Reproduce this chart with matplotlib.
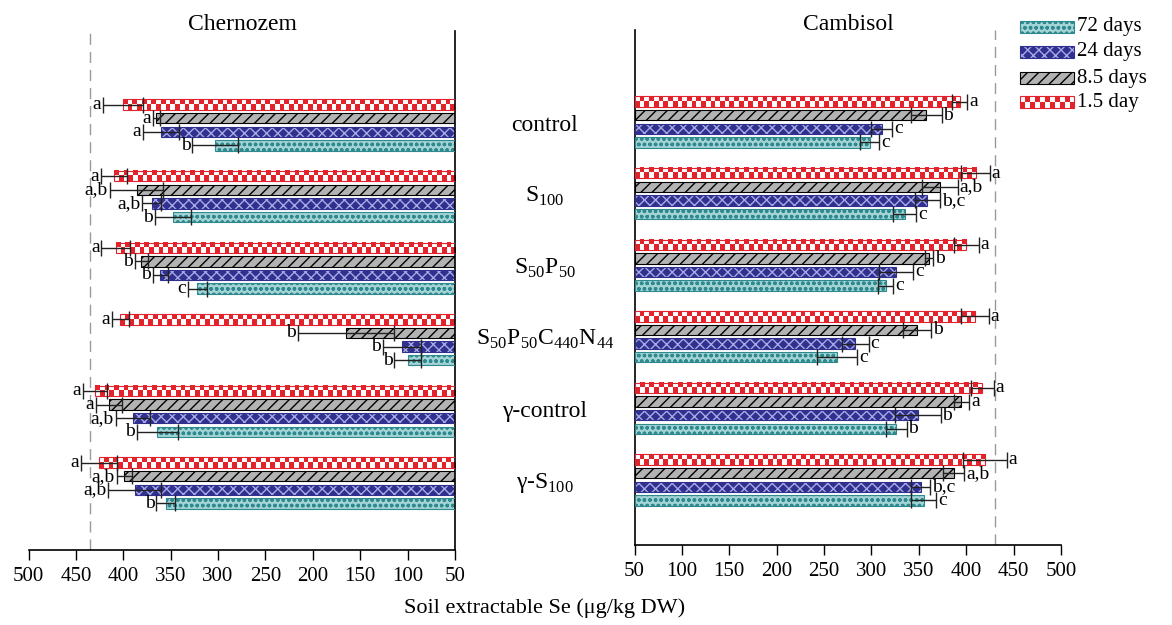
import matplotlib
matplotlib.use("Agg")
import matplotlib.pyplot as plt
import numpy as np
from matplotlib.colors import ListedColormap
from matplotlib.patches import Rectangle

plt.rcParams['font.family'] = ['Liberation Serif', 'DejaVu Serif']
plt.rcParams['hatch.linewidth'] = 1.0

# ---- data (ug/kg DW) ----
categories = [r'control', r'S$_{\mathregular{100}}$', r'S$_{\mathregular{50}}$P$_{\mathregular{50}}$',
              r'S$_{\mathregular{50}}$P$_{\mathregular{50}}$C$_{\mathregular{440}}$N$_{\mathregular{44}}$',
              r'γ-control', r'γ-S$_{\mathregular{100}}$']
series = ['1.5 day', '8.5 days', '24 days', '72 days']

cher_15 = [400, 410, 408, 403, 430, 426]
cher_15_err = [21, 14, 15, 9, 13, 19]
cher_85 = [365, 386, 381, 165, 415, 399]
cher_85_err = [4, 28, 7, 51, 14, 8]
cher_24 = [360, 370, 361, 106, 390, 388]
cher_24_err = [19, 10, 8, 20, 18, 28]
cher_72 = [303, 348, 322, 100, 364, 355]
cher_72_err = [24, 19, 10, 14, 22, 10]

camb_15 = [393, 410, 400, 409, 417, 420]
camb_15_err = [8, 15, 13, 15, 12, 23]
camb_85 = [358, 372, 361, 348, 395, 387]
camb_85_err = [16, 19, 4, 15, 8, 11]
camb_24 = [311, 359, 326, 283, 349, 352]
camb_24_err = [11, 13, 18, 14, 24, 10]
camb_72 = [298, 335, 315, 264, 326, 355]
camb_72_err = [10, 12, 8, 21, 11, 13]

cher_letters = [['a', 'a', 'a', 'a', 'a', 'a'],
                ['a', 'a,b', 'b', 'b', 'a', 'a,b'],
                ['a', 'a,b', 'b', 'b', 'a,b', 'a,b'],
                ['b', 'b', 'c', 'b', 'b', 'b']]
camb_letters = [['a', 'a', 'a', 'a', 'a', 'a'],
                ['b', 'a,b', 'b', 'b', 'a', 'a,b'],
                ['c', 'b,c', 'c', 'c', 'b', 'b,c'],
                ['c', 'c', 'c', 'c', 'b', 'c']]

dashed_left = 435
dashed_right = 430

RED = '#e3232b'
GREY = '#b3b3b3'
BLUE = '#30308f'
TEAL = '#a3d3d5'

offsets = [-0.285, -0.095, 0.095, 0.285]
bar_h = 0.145
checker_cmap = ListedColormap(['white', RED])


def checker_bar(ax, y, value, h):
    ncols = max(int(round((value - 50) / 5.0)), 1)
    img = (np.indices((2, ncols)).sum(axis=0) % 2)
    ax.imshow(img, cmap=checker_cmap, extent=(50, value, y + h / 2, y - h / 2),
              aspect='auto', interpolation='nearest', zorder=2)


def draw_panel(ax, vals, errs, letters, side):
    y0 = np.arange(len(categories))
    styles = [None,
              dict(face=GREY, hatch='///', hcol='black', edge='black'),
              dict(face=BLUE, hatch='xxx', hcol='#a9a9e6', edge=BLUE),
              dict(face=TEAL, hatch='ooo', hcol='#2f8a8f', edge='#2f8a8f')]
    for k in range(4):
        y = y0 + offsets[k]
        v = np.array(vals[k])
        if k == 0:
            for yy, vv in zip(y, v):
                checker_bar(ax, yy, vv, bar_h)
            ax.barh(y, v - 50, left=50, height=bar_h, fill=False, edgecolor=RED,
                    linewidth=0.8, zorder=3)
        else:
            st = styles[k]
            ax.barh(y, v - 50, left=50, height=bar_h, color=st['face'],
                    edgecolor=st['hcol'], hatch=st['hatch'], linewidth=0, zorder=2)
            ax.barh(y, v - 50, left=50, height=bar_h, fill=False,
                    edgecolor=st['edge'], linewidth=0.8, zorder=3)
        ax.errorbar(v, y, xerr=errs[k], fmt='none', ecolor='#222222', elinewidth=1,
                    capsize=6, capthick=1, zorder=4)
        for yy, vv, ee, lab in zip(y, v, errs[k], letters[k]):
            if side == 'left':
                ax.text(vv + ee + 2, yy, lab, ha='right', va='center', fontsize=14)
            else:
                ax.text(vv + ee + 2, yy, lab, ha='left', va='center', fontsize=14)


fig = plt.figure(figsize=(11.72, 6.25), dpi=100)
ax1 = fig.add_axes([28.5 / 1172, 1 - 550 / 625, 426.5 / 1172, 519 / 625])
ax2 = fig.add_axes([634.5 / 1172, 1 - 545 / 625, 426.5 / 1172, 515 / 625])

draw_panel(ax1, [cher_15, cher_85, cher_24, cher_72],
           [cher_15_err, cher_85_err, cher_24_err, cher_72_err], cher_letters, 'left')
draw_panel(ax2, [camb_15, camb_85, camb_24, camb_72],
           [camb_15_err, camb_85_err, camb_24_err, camb_72_err], camb_letters, 'right')

ax1.axvline(dashed_left, color='#9a9a9a', linestyle=(0, (8, 5)), linewidth=1, zorder=1)
ax2.axvline(dashed_right, color='#9a9a9a', linestyle=(0, (8, 5)), linewidth=1, zorder=1)

ax1.set_xlim(500, 50)
ax1.set_ylim(5.936, -1.313)
ax2.set_xlim(50, 500)
ax2.set_ylim(5.908, -1.285)

for ax in (ax1, ax2):
    ax.set_xticks(range(50, 501, 50))
    ax.set_yticks([])
    ax.tick_params(axis='x', direction='out', length=7, width=1, labelsize=15, pad=5)
    ax.spines['top'].set_visible(False)
    ax.spines['bottom'].set_linewidth(1.2)
ax1.spines['left'].set_visible(False)
ax1.spines['right'].set_linewidth(1.2)
ax2.spines['right'].set_visible(False)
ax2.spines['left'].set_linewidth(1.2)

# category labels between the panels
for i, cat in enumerate(categories):
    ax1.text(1.211, i, cat, transform=ax1.get_yaxis_transform(), ha='center',
             va='center', fontsize=17, clip_on=False)

fig.text(242 / 1172, 1 - 25 / 625, 'Chernozem', ha='center', va='center', fontsize=17)
fig.text(848 / 1172, 1 - 25 / 625, 'Cambisol', ha='center', va='center', fontsize=17)
fig.text(545 / 1172, 1 - 608 / 625, 'Soil extractable Se (μg/kg DW)', ha='center',
         va='center', fontsize=16)

# legend drawn in its own small axes
axl = fig.add_axes([1015 / 1172, 1 - 110 / 625, 157 / 1172, 100 / 625])
axl.axis('off')
leg_rows = [17, 42, 68, 92]
leg_labels = ['72 days', '24 days', '8.5 days', '1.5 day']
leg_styles = [dict(face=TEAL, hatch='ooo', hcol='#2f8a8f', edge='#2f8a8f'),
              dict(face=BLUE, hatch='xxx', hcol='#a9a9e6', edge=BLUE),
              dict(face=GREY, hatch='///', hcol='black', edge='black')]
for r, lab in zip(leg_rows, leg_labels):
    axl.text(62, r, lab, ha='left', va='center', fontsize=15)
for r, st in zip(leg_rows[:3], leg_styles):
    axl.add_patch(Rectangle((5, r - 6), 54, 12, facecolor=st['face'], edgecolor=st['hcol'],
                            hatch=st['hatch'], linewidth=0))
    axl.add_patch(Rectangle((5, r - 6), 54, 12, fill=False, edgecolor=st['edge'], linewidth=0.8))
img = (np.indices((2, 11)).sum(axis=0) % 2)
axl.imshow(img, cmap=checker_cmap, extent=(5, 59, leg_rows[3] + 6, leg_rows[3] - 6),
           aspect='auto', interpolation='nearest')
axl.add_patch(Rectangle((5, leg_rows[3] - 6), 54, 12, fill=False, edgecolor=RED, linewidth=0.8))
axl.set_xlim(0, 157)
axl.set_ylim(100, 0)

fig.savefig('out.png', dpi=100)
